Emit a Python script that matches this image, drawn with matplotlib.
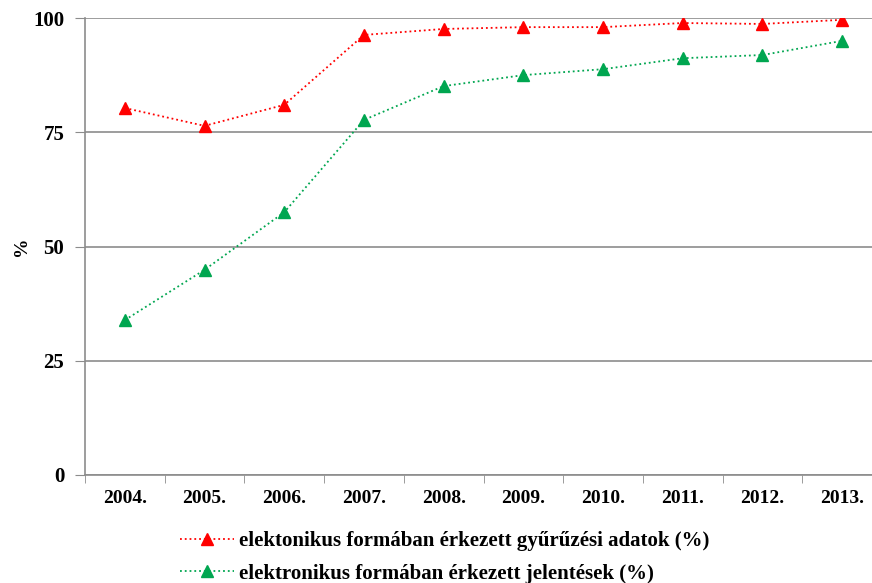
import numpy as np
import matplotlib
matplotlib.use('Agg')
import matplotlib.pyplot as plt

# adatok
evek = ['2004.', '2005.', '2006.', '2007.', '2008.', '2009.', '2010.', '2011.', '2012.', '2013.']
gyuruzesi = [80.3, 76.4, 81.0, 96.3, 97.6, 98.0, 98.0, 98.9, 98.7, 99.6]
jelentesek = [33.9, 44.9, 57.5, 77.7, 85.1, 87.5, 88.8, 91.2, 91.9, 95.0]

plt.rcParams['font.family'] = ['Liberation Serif', 'DejaVu Serif']
plt.rcParams['font.weight'] = 'bold'

fig = plt.figure(figsize=(8.72, 5.83), dpi=100)
ax = fig.add_axes([85/872, 1 - 475/583, 797/872, 457/583])

x = np.arange(len(evek))
ax.plot(x, gyuruzesi, linestyle=':', color='#ff0000', marker='^', markersize=9,
        linewidth=1.3, label='elektonikus formában érkezett gyűrűzési adatok (%)')
ax.plot(x, jelentesek, linestyle=':', color='#00a650', marker='^', markersize=9,
        linewidth=1.3, label='elektronikus formában érkezett jelentések (%)')

ax.set_xlim(-0.5, 9.5)
ax.set_ylim(0, 100)
ax.set_yticks([0, 25, 50, 75, 100])
ax.set_xticks(x)
ax.set_xticklabels(evek)
ax.set_xticks(np.arange(-0.5, 10, 1), minor=True)
ax.tick_params(axis='x', which='major', length=0, pad=11, labelsize=14)
ax.tick_params(axis='x', which='minor', length=6, color='#8c8c8c')
ax.tick_params(axis='y', length=7, color='#8c8c8c', labelsize=15, pad=8)
ax.grid(axis='y', color='#8c8c8c', linewidth=1.2)
ax.set_axisbelow(True)
for s in ['top', 'right']:
    ax.spines[s].set_visible(False)
for s in ['left', 'bottom']:
    ax.spines[s].set_color('#8c8c8c')
    ax.spines[s].set_linewidth(1.2)
ax.set_ylabel('%', fontsize=14, fontweight='bold', labelpad=2)

ax.legend(loc='upper left', bbox_to_anchor=(180/872, 1 - 531/583), bbox_transform=fig.transFigure,
          frameon=False, fontsize=15, handlelength=2.6, handletextpad=0.25, labelspacing=0.6,
          borderaxespad=0, borderpad=0)

fig.savefig('out.png', dpi=100)
